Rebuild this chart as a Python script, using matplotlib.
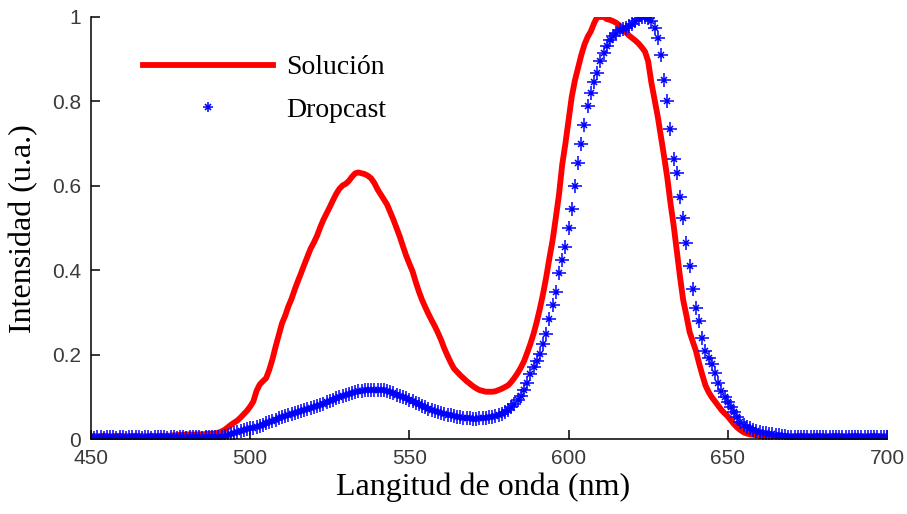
import numpy as np
import matplotlib
matplotlib.use("Agg")
import matplotlib.pyplot as plt
from matplotlib.legend_handler import HandlerTuple

# Wavelength grid (nm), one sample per nm
wavelength = np.arange(450, 701)

# Normalised emission of the solution sample
solucion = [
    0.008, 0.008, 0.007, 0.008, 0.009, 0.008, 0.007, 0.008, 0.008, 0.009,
    0.008, 0.007, 0.008, 0.008, 0.009, 0.008, 0.008, 0.007, 0.008, 0.009,
    0.008, 0.008, 0.009, 0.008, 0.009, 0.009, 0.010, 0.010, 0.011, 0.011,
    0.012, 0.012, 0.011, 0.012, 0.012, 0.012, 0.013, 0.013, 0.014, 0.014,
    0.016, 0.019, 0.023, 0.029, 0.035, 0.040, 0.045, 0.052, 0.060, 0.068,
    0.078, 0.090, 0.115, 0.130, 0.138, 0.145, 0.165, 0.190, 0.220, 0.248,
    0.275, 0.293, 0.315, 0.333, 0.355, 0.375, 0.394, 0.414, 0.433, 0.452,
    0.466, 0.482, 0.502, 0.520, 0.535, 0.550, 0.566, 0.581, 0.593, 0.601,
    0.605, 0.612, 0.622, 0.630, 0.632, 0.630, 0.628, 0.624, 0.618, 0.607,
    0.592, 0.580, 0.568, 0.556, 0.538, 0.520, 0.500, 0.480, 0.457, 0.435,
    0.416, 0.398, 0.373, 0.350, 0.330, 0.313, 0.297, 0.282, 0.268, 0.252,
    0.235, 0.215, 0.198, 0.182, 0.168, 0.160, 0.152, 0.145, 0.138, 0.132,
    0.126, 0.121, 0.117, 0.115, 0.113, 0.113, 0.113, 0.114, 0.117, 0.120,
    0.124, 0.128, 0.136, 0.146, 0.157, 0.170, 0.185, 0.205, 0.226, 0.250,
    0.278, 0.310, 0.345, 0.385, 0.430, 0.472, 0.525, 0.580, 0.650, 0.700,
    0.756, 0.811, 0.850, 0.880, 0.910, 0.935, 0.953, 0.966, 0.985, 1.000,
    1.000, 1.000, 0.995, 0.993, 0.990, 0.986, 0.980, 0.972, 0.964, 0.956,
    0.950, 0.944, 0.937, 0.928, 0.918, 0.895, 0.845, 0.805, 0.765, 0.718,
    0.670, 0.620, 0.560, 0.507, 0.445, 0.385, 0.330, 0.294, 0.255, 0.232,
    0.210, 0.180, 0.153, 0.128, 0.112, 0.100, 0.090, 0.080, 0.070, 0.062,
    0.055, 0.045, 0.036, 0.028, 0.022, 0.017, 0.014, 0.012, 0.011, 0.010,
    0.009, 0.008, 0.008, 0.009, 0.008, 0.007, 0.008, 0.009, 0.008, 0.008,
    0.007, 0.008, 0.008, 0.009, 0.008, 0.008, 0.007, 0.008, 0.009, 0.008,
    0.008, 0.007, 0.008, 0.008, 0.009, 0.008, 0.008, 0.007, 0.008, 0.008,
    0.009, 0.008, 0.008, 0.007, 0.008, 0.008, 0.009, 0.008, 0.008, 0.007,
    0.008,
]

# Normalised emission of the drop-cast film
dropcast = [
    0.005, 0.004, 0.005, 0.005, 0.004, 0.005, 0.006, 0.005, 0.004, 0.005,
    0.005, 0.004, 0.005, 0.005, 0.006, 0.005, 0.004, 0.005, 0.005, 0.004,
    0.005, 0.005, 0.006, 0.005, 0.004, 0.005, 0.005, 0.004, 0.005, 0.005,
    0.004, 0.005, 0.005, 0.006, 0.005, 0.004, 0.005, 0.005, 0.005, 0.005,
    0.006, 0.007, 0.008, 0.010, 0.012, 0.015, 0.017, 0.019, 0.022, 0.024,
    0.026, 0.028, 0.030, 0.033, 0.035, 0.038, 0.041, 0.044, 0.047, 0.050,
    0.053, 0.056, 0.058, 0.060, 0.062, 0.065, 0.067, 0.069, 0.071, 0.074,
    0.077, 0.079, 0.082, 0.085, 0.088, 0.091, 0.094, 0.097, 0.100, 0.103,
    0.106, 0.108, 0.110, 0.112, 0.114, 0.115, 0.116, 0.117, 0.118, 0.118,
    0.118, 0.117, 0.116, 0.114, 0.112, 0.109, 0.106, 0.103, 0.100, 0.097,
    0.093, 0.090, 0.087, 0.083, 0.080, 0.076, 0.073, 0.070, 0.067, 0.064,
    0.062, 0.060, 0.058, 0.057, 0.055, 0.053, 0.052, 0.051, 0.050, 0.050,
    0.049, 0.049, 0.050, 0.050, 0.051, 0.052, 0.054, 0.056, 0.058, 0.061,
    0.065, 0.070, 0.076, 0.084, 0.093, 0.104, 0.118, 0.133, 0.155, 0.172,
    0.186, 0.203, 0.226, 0.250, 0.285, 0.318, 0.350, 0.395, 0.425, 0.455,
    0.500, 0.545, 0.600, 0.655, 0.700, 0.745, 0.790, 0.820, 0.845, 0.868,
    0.895, 0.915, 0.932, 0.945, 0.955, 0.962, 0.968, 0.971, 0.973, 0.978,
    0.984, 0.990, 0.995, 0.999, 1.000, 0.997, 0.990, 0.975, 0.950, 0.910,
    0.850, 0.800, 0.735, 0.665, 0.630, 0.575, 0.525, 0.465, 0.410, 0.355,
    0.310, 0.280, 0.240, 0.210, 0.192, 0.178, 0.157, 0.133, 0.115, 0.100,
    0.088, 0.076, 0.064, 0.052, 0.042, 0.035, 0.030, 0.026, 0.022, 0.020,
    0.018, 0.016, 0.015, 0.013, 0.012, 0.011, 0.010, 0.009, 0.008, 0.007,
    0.006, 0.006, 0.005, 0.006, 0.006, 0.005, 0.006, 0.006, 0.005, 0.006,
    0.006, 0.005, 0.006, 0.006, 0.005, 0.006, 0.006, 0.005, 0.006, 0.006,
    0.005, 0.006, 0.006, 0.005, 0.006, 0.006, 0.005, 0.006, 0.006, 0.005,
    0.006,
]

x_ticks = [450, 500, 550, 600, 650, 700]
y_ticks = [0, 0.2, 0.4, 0.6, 0.8, 1]
y_tick_labels = ['0', '0.2', '0.4', '0.6', '0.8', '1']

blue = (0, 0, 1)
red = (1, 0, 0)

fig = plt.figure(figsize=(9.07, 5.14), dpi=100)
ax = fig.add_axes([0.1003, 0.145, 0.8776, 0.822])

line_sol, = ax.plot(wavelength, solucion, color=red, linewidth=4.2)

# asterisk marker: long plus arms, short diagonals, dot in the middle
plus, = ax.plot(wavelength, dropcast, linestyle='none', marker='+',
                markersize=9.5, markeredgewidth=1.1, color=blue)
cross, = ax.plot(wavelength, dropcast, linestyle='none', marker='x',
                 markersize=4.5, markeredgewidth=1.1, color=blue)
dot, = ax.plot(wavelength, dropcast, linestyle='none', marker='o',
               markersize=2.5, markeredgewidth=0, color=blue)

ax.set_xlim(450, 700)
ax.set_ylim(0, 1)
ax.set_xticks(x_ticks)
ax.set_yticks(y_ticks)
ax.set_yticklabels(y_tick_labels)

for side in ['top', 'right']:
    ax.spines[side].set_visible(False)
for side in ['left', 'bottom']:
    ax.spines[side].set_linewidth(1.1)

ax.tick_params(direction='in', length=6.5, width=1.1, pad=7,
               labelsize=15, labelcolor='#3a3a3a')
for lab in ax.get_xticklabels() + ax.get_yticklabels():
    lab.set_family('Liberation Sans')

ax.set_xlabel('Langitud de onda (nm)', family='Liberation Serif',
              fontsize=23, labelpad=6)
ax.xaxis.set_label_coords(0.493, -0.078)
ax.set_ylabel('Intensidad (u.a.)', family='Liberation Serif',
              fontsize=23, labelpad=10)

# legend marker is drawn a little smaller than the data markers
leg_plus = plt.Line2D([], [], linestyle='none', marker='+', markersize=7.5,
                      markeredgewidth=1.1, color=blue)
leg_cross = plt.Line2D([], [], linestyle='none', marker='x', markersize=3.8,
                       markeredgewidth=1.1, color=blue)
leg_dot = plt.Line2D([], [], linestyle='none', marker='o', markersize=2.5,
                     markeredgewidth=0, color=blue)

ax.legend([line_sol, (leg_plus, leg_cross, leg_dot)],
          ['Solución', 'Dropcast'],
          handler_map={tuple: HandlerTuple(ndivide=1, pad=0)},
          loc='upper left', bbox_to_anchor=(0.065, 0.91),
          frameon=False, borderpad=0, borderaxespad=0,
          handlelength=4.68, handletextpad=0.5, labelspacing=0.6,
          numpoints=1, prop={'family': 'Liberation Serif', 'size': 20})

fig.savefig('out.png', dpi=100)
